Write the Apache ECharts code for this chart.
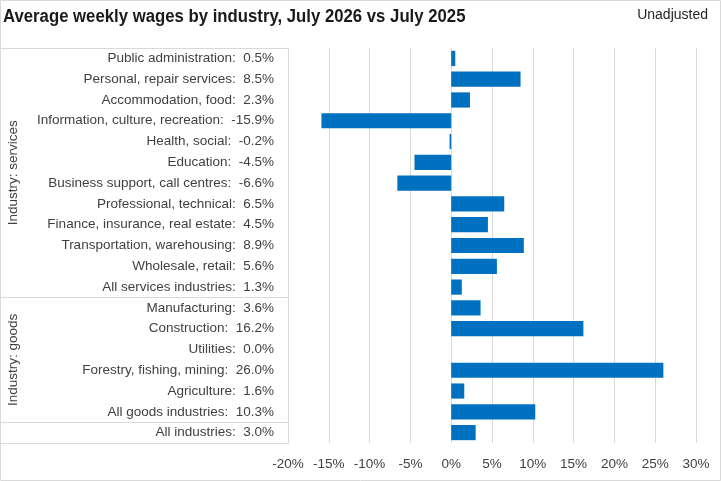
<!DOCTYPE html>
<html>
<head>
<meta charset="utf-8">
<script src="https://cdn.jsdelivr.net/npm/echarts@6/dist/echarts.min.js"></script>
<style>
  html, body { margin: 0; padding: 0; background: #fff; }
  #ET1 { width: 721px; height: 481px; }
</style>
</head>
<body>
<div id="ET1"></div>
<script>
var industries = ['Public administration', 'Personal, repair services', 'Accommodation, food',
    'Information, culture, recreation', 'Health, social', 'Education', 'Business support, call centres',
    'Professional, technical', 'Finance, insurance, real estate', 'Transportation, warehousing',
    'Wholesale, retail', 'All services industries', 'Manufacturing', 'Construction', 'Utilities',
    'Forestry, fishing, mining', 'Agriculture', 'All goods industries', 'All industries'];
var changes = [0.5, 8.5, 2.3, -15.9, -0.2, -4.5, -6.6, 6.5, 4.5, 8.9, 5.6, 1.3,
    3.6, 16.2, 0.0, 26.0, 1.6, 10.3, 3.0];
// groups: [label, first index, last index]
var groups = [['Industry: services', 0, 11], ['Industry: goods', 12, 17], ['', 18, 18]];
var xTicks = [-20, 30, 5];

var FONT = "'Liberation Sans', sans-serif";

~function () {
    var myChart = echarts.init(ET1);
    var labels = industries.map(function (n, i) {
        return n + ':  ' + changes[i].toFixed(1) + '%';
    });
    var option = {
        animation: false,
        textStyle: {fontFamily: FONT},
        grid: {left: 288, right: 25, top: 48, bottom: 38, containLabel: false},
        xAxis: {
            type: 'value',
            min: xTicks[0], max: xTicks[1], interval: xTicks[2],
            axisLine: {show: false},
            axisTick: {show: false},
            splitLine: {lineStyle: {color: '#d9d9d9', width: 1}},
            axisLabel: {
                formatter: '{value}%', color: '#404040', fontSize: 13.5, fontFamily: FONT, margin: 14
            }
        },
        yAxis: {
            type: 'category',
            inverse: true,
            data: labels,
            axisLine: {show: false},
            axisTick: {show: false},
            axisLabel: {color: '#404040', fontSize: 13.5, fontFamily: FONT, margin: 14}
        },
        series: [
            {
                type: 'bar',
                data: changes,
                barCategoryGap: '27%',
                itemStyle: {color: '#0070C0'}
            }
        ]
    };
    myChart.setOption(option);

    // titles and category-table decoration
    var step = myChart.convertToPixel({yAxisIndex: 0}, 1) - myChart.convertToPixel({yAxisIndex: 0}, 0);
    var edge = function (i) { return myChart.convertToPixel({yAxisIndex: 0}, i) - step / 2; };
    var lineStyle = {stroke: '#d9d9d9', lineWidth: 1};
    var gfx = [
        {type: 'rect', shape: {x: 0.5, y: 0.5, width: 720, height: 480}, style: {fill: null, stroke: '#d9d9d9', lineWidth: 1}, silent: true},
        {
            type: 'text', x: 3, y: 17, scaleX: 0.93,
            style: {text: 'Average weekly wages by industry, July 2026 vs July 2025', fill: '#1a1a1a',
                font: 'bold 18px ' + FONT, align: 'left', verticalAlign: 'middle'},
            silent: true
        },
        {
            type: 'text', x: 708, y: 15,
            style: {text: 'Unadjusted', fill: '#262626', font: '14px ' + FONT, align: 'right', verticalAlign: 'middle'},
            silent: true
        }
    ];
    var ys = [edge(0)];
    groups.forEach(function (g) { ys.push(edge(g[2] + 1)); });
    ys.forEach(function (y) {
        var yy = Math.round(y) + 0.5;
        gfx.push({type: 'line', shape: {x1: 0, y1: yy, x2: 288, y2: yy}, style: lineStyle, silent: true});
    });
    gfx.push({type: 'line', shape: {x1: 288.5, y1: Math.round(ys[0]) + 0.5, x2: 288.5, y2: Math.round(ys[ys.length - 1]) + 0.5}, style: lineStyle, silent: true});
    groups.forEach(function (g) {
        if (!g[0]) return;
        var mid = (edge(g[1]) + edge(g[2] + 1)) / 2;
        gfx.push({
            type: 'text', x: 13, y: mid, rotation: Math.PI / 2,
            style: {text: g[0], fill: '#404040', font: '13.5px ' + FONT, align: 'center', verticalAlign: 'middle'},
            silent: true
        });
    });
    myChart.setOption({graphic: gfx});
}();
</script>
</body>
</html>
